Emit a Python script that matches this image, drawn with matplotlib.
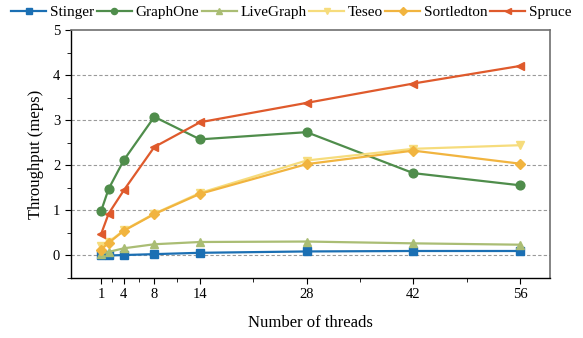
import matplotlib
matplotlib.use("Agg")
import matplotlib.pyplot as plt
from matplotlib.ticker import FixedLocator, MultipleLocator

plt.rcParams['font.family'] = ['Liberation Serif', 'DejaVu Serif']

# thread counts on the x axis
threads = [1, 2, 4, 8, 14, 28, 42, 56]

# throughput in meps per system
stinger = [0.0, 0.0, 0.01, 0.03, 0.06, 0.09, 0.10, 0.10]
graphone = [0.98, 1.48, 2.12, 3.08, 2.58, 2.74, 1.83, 1.56]
livegraph = [0.04, 0.08, 0.16, 0.25, 0.30, 0.31, 0.27, 0.24]
teseo = [0.20, 0.30, 0.56, 0.93, 1.39, 2.11, 2.37, 2.45]
sortledton = [0.13, 0.28, 0.55, 0.92, 1.37, 2.03, 2.33, 2.04]
spruce = [0.47, 0.93, 1.45, 2.41, 2.96, 3.39, 3.82, 4.21]

series = [
    ("Stinger", stinger, "#1b6fb3", "s"),
    ("GraphOne", graphone, "#4f8d4b", "o"),
    ("LiveGraph", livegraph, "#aabd74", "^"),
    ("Teseo", teseo, "#f6dc7c", "v"),
    ("Sortledton", sortledton, "#f1b43f", "D"),
    ("Spruce", spruce, "#df5a2c", "<"),
]

x_major = [1, 4, 8, 14, 28, 42, 56]
x_minor = [2.5, 6, 11, 21, 35, 49]

fig = plt.figure(figsize=(5.83, 3.38), dpi=100)
ax = fig.add_axes([0.121, 0.1775, 0.823, 0.7325])

for name, vals, col, mk in series:
    ms = 5.5 if mk == "D" else 6.3
    ax.plot(threads, vals, color=col, marker=mk, markersize=ms, linewidth=1.6,
            label=name, zorder=3)

ax.set_xlim(-3, 60)
ax.set_ylim(-0.5, 5)
ax.xaxis.set_major_locator(FixedLocator(x_major))
ax.xaxis.set_minor_locator(FixedLocator(x_minor))
ax.yaxis.set_major_locator(MultipleLocator(1))
ax.yaxis.set_minor_locator(MultipleLocator(0.5))

ax.tick_params(which="both", direction="out", labelsize=10.5, color="black")
ax.tick_params(which="major", length=4)
ax.tick_params(which="minor", length=3)

# dashed horizontal grid below the top spine
for yv in [0, 1, 2, 3, 4]:
    ax.axhline(yv, color="#9a9a9a", linestyle=(0, (3, 2)), linewidth=0.8, zorder=1)

for side in ["left", "bottom"]:
    ax.spines[side].set_linewidth(1.0)
for side in ["top", "right"]:
    ax.spines[side].set_color("#707070")
    ax.spines[side].set_linewidth(1.2)

ax.set_xlabel("Number of threads", fontsize=12, labelpad=10)
ax.set_ylabel("Throughput (meps)", fontsize=12, labelpad=6)

fig.legend(loc="upper center", bbox_to_anchor=(0.5, 1.01), ncol=6, frameon=False,
           fontsize=11, handlelength=2.3, handletextpad=0.25, columnspacing=0.15,
           borderaxespad=0.2, markerscale=0.7)

fig.savefig("out.png", dpi=100)
